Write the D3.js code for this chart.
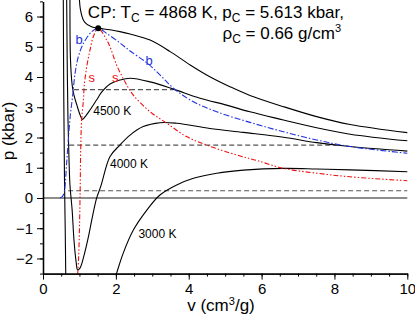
<!DOCTYPE html>
<html>
<head>
<meta charset="utf-8">
<script src="https://cdn.jsdelivr.net/npm/d3@7"></script>
<style>
  html, body { margin: 0; padding: 0; background: #fff; }
  svg { display: block; font-family: "Liberation Sans", Arial, sans-serif; }
</style>
</head>
<body>
<div id="chart"></div>
<script>
// critical point
const critPoint = [1.515, 5.613];

// isotherms, [v (cm3/g), p (kbar)]
const isoTc = [[1.00, 6.55], [1.03, 6.21], [1.11, 5.88], [1.21, 5.74], [1.29, 5.69], [1.40, 5.64],
  [1.515, 5.613], [1.67, 5.59], [1.84, 5.56], [2.11, 5.50], [2.39, 5.42], [2.94, 5.22], [3.49, 4.84],
  [4.04, 4.40], [4.58, 4.01], [5.13, 3.68], [5.68, 3.39], [6.60, 3.02], [7.51, 2.69], [8.43, 2.43], [10, 2.16]];

const iso4500 = [[0.74, 6.55], [0.755, 4.56], [0.80, 3.74], [0.85, 3.40], [0.93, 3.07], [1.02, 2.74],
  [1.08, 2.60], [1.15, 2.68], [1.29, 2.91], [1.47, 3.24], [1.61, 3.50], [1.84, 3.77], [2.11, 3.90],
  [2.39, 3.96], [2.94, 3.84], [3.58, 3.60], [4.31, 3.30], [5.04, 3.07], [5.68, 2.85], [6.60, 2.58],
  [7.51, 2.32], [8.43, 2.11], [10, 1.89]];

const iso4000 = [[0.65, 6.55], [0.664, 4.56], [0.686, 2.58], [0.714, 1.26], [0.74, 0.43], [0.80, -0.40],
  [0.85, -1.39], [0.91, -2.12], [0.95, -2.38], [1.02, -2.31], [1.13, -1.88], [1.24, -1.32], [1.35, -0.66],
  [1.47, -0.01], [1.59, 0.40], [1.84, 1.37], [2.11, 1.75], [2.39, 2.08], [2.75, 2.36], [3.21, 2.49],
  [3.67, 2.47], [4.58, 2.30], [5.50, 2.17], [6.60, 2.01], [7.51, 1.83], [8.43, 1.70], [10, 1.55]];

const iso3000Liquid = [[0.557, 6.55], [0.571, 3.24], [0.59, 0.60], [0.61, -1.06], [0.625, -2.6]];
const iso3000Gas = [[1.99, -2.6], [2.02, -2.49], [2.20, -1.83], [2.48, -1.06], [2.85, -0.40], [3.21, 0.10],
  [3.67, 0.43], [4.13, 0.65], [4.77, 0.82], [5.50, 0.92], [6.60, 0.98], [7.51, 0.96], [8.43, 0.93], [10, 0.87]];

// binodal (b) and spinodal (s)
const binodal = [[0.467, 0.0], [0.535, 0.05], [0.576, 0.17], [0.604, 0.37], [0.645, 1.09], [0.695, 1.92],
  [0.75, 2.74], [0.80, 3.24], [0.83, 3.57], [0.88, 4.12], [0.97, 4.67], [1.11, 5.11], [1.34, 5.50],
  [1.515, 5.613], [1.75, 5.44], [2.11, 5.13], [2.39, 4.86], [2.85, 4.47], [3.21, 4.07], [3.58, 3.63],
  [4.13, 3.18], [4.77, 2.85], [5.68, 2.50], [6.60, 2.19], [7.51, 1.92], [8.43, 1.70], [10, 1.48]];

const spinodal = [[0.95, -2.55], [0.975, -2.05], [1.00, -1.06], [1.02, 0.26], [1.035, 1.59], [1.06, 2.58],
  [1.11, 3.24], [1.13, 3.68], [1.20, 4.34], [1.29, 4.89], [1.38, 5.33], [1.515, 5.613], [1.75, 5.22],
  [1.84, 5.00], [2.02, 4.40], [2.25, 3.84], [2.48, 3.40], [2.94, 2.85], [3.40, 2.47], [3.94, 2.03],
  [4.49, 1.75], [5.32, 1.42], [5.87, 1.24], [6.60, 0.98], [7.51, 0.82], [8.43, 0.70], [10, 0.57]];

// Maxwell lines: [p, v start, v end]
const maxwell = [[3.58, 0.85, 3.58], [1.75, 0.72, 8.06], [0.24, 0.69, 10]];

const isoLabels = [["4500 K", 1.38, 2.74], ["4000 K", 1.84, 0.98], ["3000 K", 2.62, -1.33]];
const curveLabels = [["b", 0.99, 5.1, "#2233dd"], ["b", 2.91, 4.4, "#2233dd"],
  ["s", 1.34, 3.85, "#ee1111"], ["s", 1.98, 3.85, "#ee1111"]];

const xTicks = [0, 2, 4, 6, 8, 10];
const yTicks = [-2, -1, 0, 1, 2, 3, 4, 5, 6];

const W = 415, H = 316;
const svg = d3.select('#chart').append('svg').attr('width', W).attr('height', H);

const x = d3.scaleLinear().domain([0, 10]).range([43, 407.3]);
const y = d3.scaleLinear().domain([-2.5, 6.5]).range([273.6, 1.4]);

svg.append('clipPath').attr('id', 'plot')
  .append('rect').attr('x', 43).attr('y', 0).attr('width', 365).attr('height', 274);

const plot = svg.append('g').attr('clip-path', 'url(#plot)');
const line = d3.line().x(d => x(d[0])).y(d => y(d[1])).curve(d3.curveCatmullRom.alpha(0.5));

// p = 0
plot.append('line')
  .attr('x1', x(0)).attr('x2', x(10)).attr('y1', y(0)).attr('y2', y(0))
  .attr('stroke', '#666').attr('stroke-width', 1.5);

// Maxwell constructions
plot.selectAll('.mx').data(maxwell).enter().append('line')
  .attr('x1', d => x(d[1])).attr('x2', d => x(d[2]))
  .attr('y1', d => y(d[0])).attr('y2', d => y(d[0]))
  .attr('stroke', '#555').attr('stroke-width', 1.2).attr('stroke-dasharray', '5,3');

// isotherms
[isoTc, iso4500, iso4000, iso3000Liquid, iso3000Gas].forEach(c => {
  plot.append('path').datum(c).attr('d', line)
    .attr('fill', 'none').attr('stroke', '#000').attr('stroke-width', 1.1);
});

plot.append('path').datum(binodal).attr('d', line)
  .attr('fill', 'none').attr('stroke', '#2233dd').attr('stroke-width', 1.1)
  .attr('stroke-dasharray', '6,2,1.5,2');

plot.append('path').datum(spinodal).attr('d', line)
  .attr('fill', 'none').attr('stroke', '#ee1111').attr('stroke-width', 1.1)
  .attr('stroke-dasharray', '5,2,1.5,2,1.5,2');

svg.append('circle').attr('cx', x(critPoint[0])).attr('cy', y(critPoint[1])).attr('r', 3).attr('fill', '#000');

// axes
const minorX = d3.range(0, 10.01, 0.5);
const minorY = d3.range(-2.5, 6.51, 0.5);

const xAxisMinor = d3.axisBottom(x).tickValues(minorX).tickSize(3).tickFormat('').tickSizeOuter(0);
const xAxis = d3.axisBottom(x).tickValues(xTicks).tickSize(6).tickSizeOuter(0).tickPadding(4);
const yAxisMinor = d3.axisLeft(y).tickValues(minorY).tickSize(3).tickFormat('').tickSizeOuter(0);
const yAxis = d3.axisLeft(y).tickValues(yTicks).tickSize(6).tickSizeOuter(0).tickPadding(4);

[xAxisMinor, xAxis].forEach(a => svg.append('g').attr('class', 'ax')
  .attr('transform', `translate(0, ${y(-2.5)})`).call(a));
[yAxisMinor, yAxis].forEach(a => svg.append('g').attr('class', 'ax')
  .attr('transform', `translate(${x(0)}, 0)`).call(a));

svg.selectAll('.ax path').attr('stroke', '#000').attr('stroke-width', 1.3);
svg.selectAll('.ax line').attr('stroke', '#000').attr('stroke-width', 1);
svg.selectAll('.ax text').attr('font-size', 15).attr('fill', '#000')
  .attr('font-family', '"Liberation Sans", Arial, sans-serif');

// axis titles
svg.append('text').attr('x', 221).attr('y', 311).attr('text-anchor', 'middle').attr('font-size', 17)
  .html('v (cm<tspan dy="-6" font-size="11">3</tspan><tspan dy="6">/g)</tspan>');
svg.append('text').attr('transform', 'translate(14, 131) rotate(-90)').attr('text-anchor', 'middle')
  .attr('font-size', 17).text('p (kbar)');

// critical point annotation
svg.append('text').attr('x', 344).attr('y', 17.5).attr('text-anchor', 'end').attr('font-size', 17)
  .html('CP: T<tspan dy="4" font-size="12">C</tspan><tspan dy="-4"> = 4868 K, p</tspan>' +
    '<tspan dy="4" font-size="12">C</tspan><tspan dy="-4"> = 5.613 kbar,</tspan>');
svg.append('text').attr('x', 341).attr('y', 39).attr('text-anchor', 'end').attr('font-size', 17)
  .html('ρ<tspan dy="4" font-size="12">C</tspan><tspan dy="-4"> = 0.66 g/cm</tspan>' +
    '<tspan dy="-7" font-size="11">3</tspan>');

svg.selectAll('.iso').data(isoLabels).enter().append('text')
  .attr('x', d => x(d[1])).attr('y', d => y(d[2])).attr('font-size', 12).text(d => d[0]);

svg.selectAll('.cl').data(curveLabels).enter().append('text')
  .attr('x', d => x(d[1])).attr('y', d => y(d[2])).attr('text-anchor', 'middle')
  .attr('font-size', 13).attr('fill', d => d[3]).text(d => d[0]);
</script>
</body>
</html>
